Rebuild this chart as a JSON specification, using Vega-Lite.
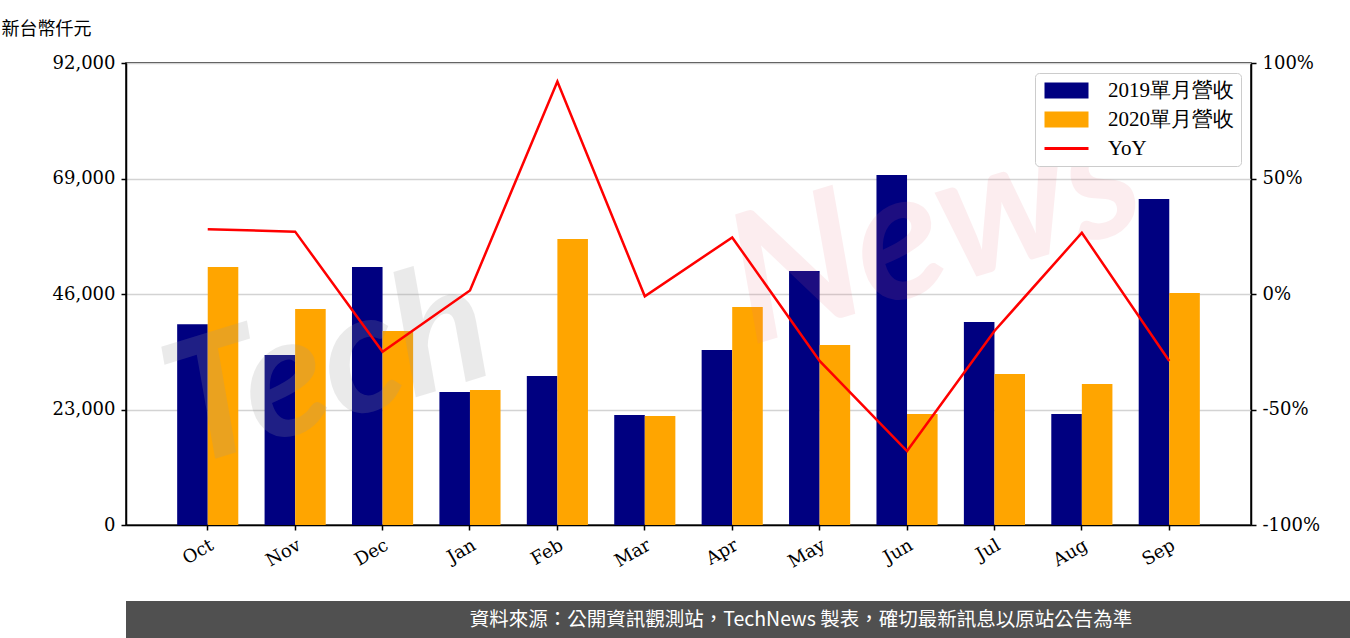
{
  "$schema": "https://vega.github.io/schema/vega-lite/v6.json",
  "padding": {"top": 19, "left": 0, "right": 0, "bottom": 0},
  "background": "white",
  "bounds": "full",
  "spacing": 28,
  "datasets": {
    "bars": [
      {"month": "Oct", "series": "2019單月營收", "value": 40000},
      {"month": "Oct", "series": "2020單月營收", "value": 51370},
      {"month": "Nov", "series": "2019單月營收", "value": 33850},
      {"month": "Nov", "series": "2020單月營收", "value": 43010},
      {"month": "Dec", "series": "2019單月營收", "value": 51370},
      {"month": "Dec", "series": "2020單月營收", "value": 38630},
      {"month": "Jan", "series": "2019單月營收", "value": 26480},
      {"month": "Jan", "series": "2020單月營收", "value": 26880},
      {"month": "Feb", "series": "2019單月營收", "value": 29670},
      {"month": "Feb", "series": "2020單月營收", "value": 56950},
      {"month": "Mar", "series": "2019單月營收", "value": 21900},
      {"month": "Mar", "series": "2020單月營收", "value": 21700},
      {"month": "Apr", "series": "2019單月營收", "value": 34850},
      {"month": "Apr", "series": "2020單月營收", "value": 43410},
      {"month": "May", "series": "2019單月營收", "value": 50580},
      {"month": "May", "series": "2020單月營收", "value": 35840},
      {"month": "Jun", "series": "2019單月營收", "value": 69690},
      {"month": "Jun", "series": "2020單月營收", "value": 22100},
      {"month": "Jul", "series": "2019單月營收", "value": 40420},
      {"month": "Jul", "series": "2020單月營收", "value": 30070},
      {"month": "Aug", "series": "2019單月營收", "value": 22100},
      {"month": "Aug", "series": "2020單月營收", "value": 28080},
      {"month": "Sep", "series": "2019單月營收", "value": 64910},
      {"month": "Sep", "series": "2020單月營收", "value": 46200}
    ],
    "yoy": [
      {"month": "Oct", "yoy": 28},
      {"month": "Nov", "yoy": 27},
      {"month": "Dec", "yoy": -25},
      {"month": "Jan", "yoy": 1.5},
      {"month": "Feb", "yoy": 92},
      {"month": "Mar", "yoy": -1},
      {"month": "Apr", "yoy": 24.5},
      {"month": "May", "yoy": -29},
      {"month": "Jun", "yoy": -68},
      {"month": "Jul", "yoy": -16},
      {"month": "Aug", "yoy": 26.5},
      {"month": "Sep", "yoy": -29}
    ],
    "tech": [{"word": "Tech", "month": "Nov", "v": 28700}],
    "news": [{"word": "News", "month": "Jun", "v": 56500}]
  },
  "config": {
    "font": "Liberation Serif",
    "axis": {
      "labelFont": "DejaVu Serif",
      "labelFontSize": 18,
      "labelColor": "#000000",
      "domainColor": "#000000",
      "domainWidth": 1.5,
      "tickColor": "#000000",
      "tickWidth": 1.5,
      "tickSize": 5,
      "titleFont": "Noto Sans CJK TC",
      "titleFontSize": 18,
      "titleFontWeight": "normal",
      "titleColor": "#000000"
    }
  },
  "vconcat": [
    {
      "width": 1125,
      "height": 462,
      "view": {"stroke": "#000000", "strokeWidth": 1.5},
      "layer": [
        {
          "data": {"name": "bars"},
          "mark": {"type": "bar"},
          "encoding": {
            "x": {
              "field": "month", "type": "nominal",
              "sort": ["Oct","Nov","Dec","Jan","Feb","Mar","Apr","May","Jun","Jul","Aug","Sep"],
              "scale": {"paddingInner": 0, "paddingOuter": 0.435},
              "axis": {"title": null, "labelAngle": -30, "labelAlign": "right", "labelBaseline": "top", "labelPadding": 6, "grid": false}
            },
            "xOffset": {
              "field": "series", "type": "nominal",
              "scale": {"paddingInner": 0, "paddingOuter": 0.43}
            },
            "y": {
              "field": "value", "type": "quantitative",
              "scale": {"domain": [0, 92000], "nice": false},
              "axis": {
                "values": [0, 23000, 46000, 69000, 92000],
                "labelExpr": "format(datum.value, ',d')",
                "grid": true, "gridColor": "#d3d3d3", "gridWidth": 1.5,
                "labelPadding": 6,
                "title": "　新台幣仟元",
                "titleAngle": 0, "titleX": -125, "titleY": -34,
                "titleAlign": "left", "titleBaseline": "middle"
              }
            },
            "color": {
              "field": "series", "type": "nominal",
              "scale": {"domain": ["2019單月營收", "2020單月營收", "YoY"], "range": ["#000080", "#FFA500", "#FF0000"]},
              "legend": {
                "title": null, "orient": "top-right", "offset": 10,
                "strokeColor": "#cccccc", "cornerRadius": 4, "padding": 7, "fillColor": "white",
                "labelFont": "Liberation Serif", "labelFontSize": 21, "labelColor": "#000000",
                "symbolSize": 256, "symbolOffset": 14, "labelOffset": 31, "rowPadding": 7,
                "symbolType": "M-2.75,-1H2.75V1H-2.75Z",
                "encode": {
                  "symbols": {
                    "update": {
                      "shape": {"signal": "datum.value === 'YoY' ? 'M-2.75,0H2.75' : 'M-2.75,-1H2.75V1H-2.75Z'"},
                      "fill": {"signal": "datum.value === 'YoY' ? 'transparent' : scale('color', datum.value)"},
                      "stroke": {"signal": "datum.value === 'YoY' ? '#FF0000' : 'transparent'"},
                      "strokeWidth": {"signal": "datum.value === 'YoY' ? 3 : 0"},
                      "opacity": {"value": 1}
                    }
                  }
                }
              }
            }
          }
        },
        {
          "data": {"name": "tech"},
          "mark": {"type": "text", "clip": true, "font": "Lato", "fontStyle": "italic", "fontWeight": "bold", "fontSize": 170, "angle": -17, "dx": 35, "align": "center", "baseline": "middle", "color": "#9a9a9a", "opacity": 0.2},
          "encoding": {
            "x": {"field": "month", "type": "nominal", "sort": ["Oct","Nov","Dec","Jan","Feb","Mar","Apr","May","Jun","Jul","Aug","Sep"]},
            "y": {"field": "v", "type": "quantitative", "scale": {"domain": [0, 92000], "nice": false}, "axis": null},
            "text": {"field": "word"}
          }
        },
        {
          "data": {"name": "news"},
          "mark": {"type": "text", "clip": true, "font": "Lato", "fontStyle": "italic", "fontWeight": "bold", "fontSize": 180, "angle": -17, "dx": 30, "align": "center", "baseline": "middle", "color": "#e87080", "opacity": 0.12},
          "encoding": {
            "x": {"field": "month", "type": "nominal", "sort": ["Oct","Nov","Dec","Jan","Feb","Mar","Apr","May","Jun","Jul","Aug","Sep"]},
            "y": {"field": "v", "type": "quantitative", "scale": {"domain": [0, 92000], "nice": false}, "axis": null},
            "text": {"field": "word"}
          }
        },
        {
          "data": {"name": "yoy"},
          "mark": {"type": "line", "strokeWidth": 2.5, "color": "#FF0000"},
          "encoding": {
            "x": {"field": "month", "type": "nominal", "sort": ["Oct","Nov","Dec","Jan","Feb","Mar","Apr","May","Jun","Jul","Aug","Sep"]},
            "y": {
              "field": "yoy", "type": "quantitative",
              "scale": {"domain": [-100, 100], "nice": false},
              "axis": {"orient": "right", "values": [-100, -50, 0, 50, 100], "labelExpr": "datum.value + '%'", "title": null, "grid": false, "labelPadding": 6}
            }
          }
        }
      ],
      "resolve": {"scale": {"y": "independent", "color": "independent"}}
    },
    {
      "width": 1350,
      "height": 38,
      "view": {"fill": "#505050", "stroke": null},
      "data": {"values": [{"note": "資料來源：公開資訊觀測站，TechNews 製表，確切最新訊息以原站公告為準"}]},
      "mark": {"type": "text", "color": "white", "font": "Noto Sans CJK TC", "fontSize": 19.5},
      "encoding": {
        "text": {"field": "note"},
        "x": {"datum": 0.5, "type": "quantitative", "scale": {"domain": [0, 1]}, "axis": null},
        "y": {"datum": 0.5, "type": "quantitative", "scale": {"domain": [0, 1]}, "axis": null}
      }
    }
  ]
}
